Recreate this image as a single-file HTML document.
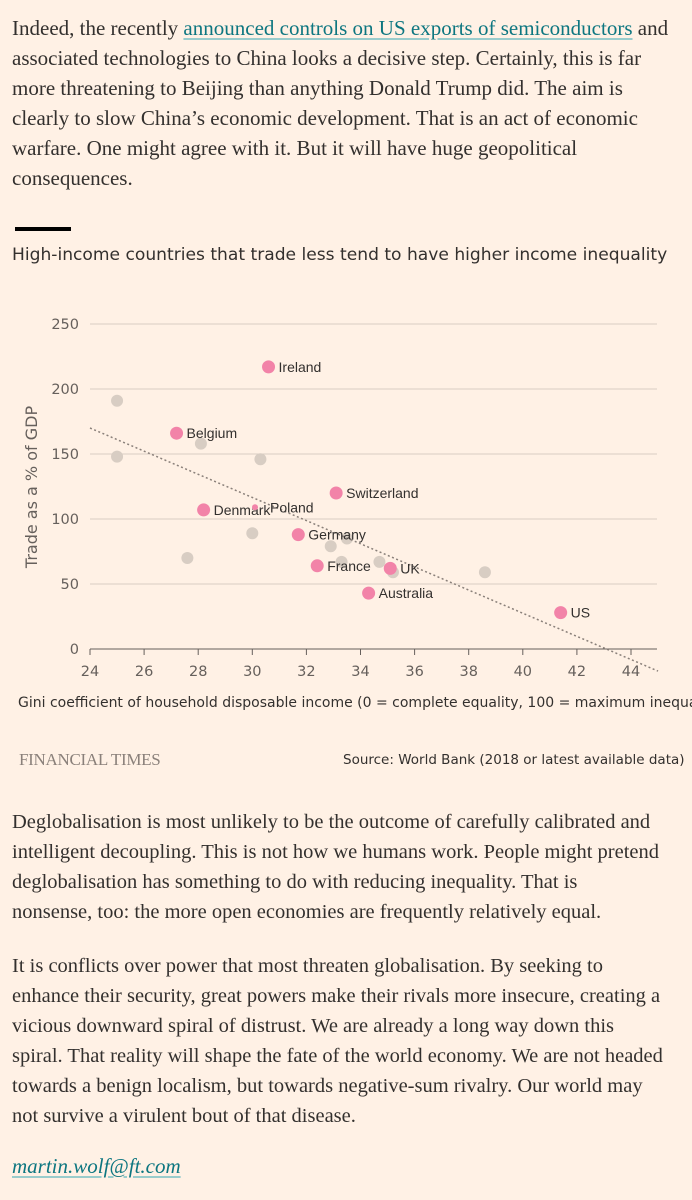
<!DOCTYPE html>
<html><head><meta charset="utf-8"><style>
html,body{margin:0;padding:0;background:#fff1e5;}
body{width:692px;height:1200px;position:relative;overflow:hidden;color:#33302e;}
.p{position:absolute;left:12px;font-family:"Liberation Serif",serif;font-size:21px;line-height:30px;white-space:nowrap;}
.p div{height:30px;}
a{color:#0d7680;text-decoration:underline;text-decoration-color:#9cc;text-underline-offset:3px;}
.sans{font-family:"DejaVu Sans","Liberation Sans",sans-serif;}
</style></head><body>
<div class="p" style="top:13px">
<div>Indeed, the recently <a>announced controls on US exports of semiconductors</a> and</div>
<div>associated technologies to China looks a decisive step. Certainly, this is far</div>
<div>more threatening to Beijing than anything Donald Trump did. The aim is</div>
<div>clearly to slow China’s economic development. That is an act of economic</div>
<div>warfare. One might agree with it. But it will have huge geopolitical</div>
<div>consequences.</div>
</div>
<div style="position:absolute;left:15px;top:227px;width:56px;height:4px;background:#000"></div>
<div class="sans" style="position:absolute;left:12px;top:245px;font-size:17.1px;color:#33302e;white-space:nowrap;">High-income countries that trade less tend to have higher income inequality</div>
<svg id="chart" width="692" height="720" style="position:absolute;left:0;top:0" font-family="DejaVu Sans, Liberation Sans, sans-serif"></svg>
<div class="sans" style="position:absolute;left:18px;top:695px;font-size:14px;color:#33302e;white-space:nowrap;">Gini coefficient of household disposable income (0 = complete equality, 100 = maximum inequality)</div>
<div style="position:absolute;left:19px;top:750px;font-family:'Liberation Serif',serif;font-size:17px;color:#8a807a;letter-spacing:-0.3px">FINANCIAL TIMES</div>
<div class="sans" style="position:absolute;left:343px;top:752px;font-size:13.5px;color:#33302e;white-space:nowrap;">Source: World Bank (2018 or latest available data)</div>
<div class="p" style="top:807px;font-size:20.5px">
<div>Deglobalisation is most unlikely to be the outcome of carefully calibrated and</div>
<div>intelligent decoupling. This is not how we humans work. People might pretend</div>
<div>deglobalisation has something to do with reducing inequality. That is</div>
<div>nonsense, too: the more open economies are frequently relatively equal.</div>
</div>
<div class="p" style="top:951px;font-size:20.5px">
<div>It is conflicts over power that most threaten globalisation. By seeking to</div>
<div>enhance their security, great powers make their rivals more insecure, creating a</div>
<div>vicious downward spiral of distrust. We are already a long way down this</div>
<div>spiral. That reality will shape the fate of the world economy. We are not headed</div>
<div>towards a benign localism, but towards negative-sum rivalry. Our world may</div>
<div>not survive a virulent bout of that disease.</div>
</div>
<div class="p" style="top:1151px"><a style="font-style:italic">martin.wolf@ft.com</a></div>
<script>
const yTicks=[0,50,100,150,200,250];
const xTicks=[24,26,28,30,32,34,36,38,40,42,44];
const greyGini=[25.0,25.0,28.1,30.3,30.0,27.6,32.9,33.5,33.3,34.7,35.2,38.6];
const greyTrade=[191,148,158,146,89,70,79,85,67,67,59,59];
const names=["Ireland","Belgium","Denmark","Poland","Switzerland","Germany","France","UK","Australia","US"];
const gini=[30.6,27.2,28.2,30.1,33.1,31.7,32.4,35.1,34.3,41.4];
const trade=[217,166,107,109,120,88,64,62,43,28];
const labelText=["Ireland","Belgium","Denmark","Poland","Switzerland","Germany","France","UK","Australia","US"];
const trendStart=[24,170];
const trendEnd=[45,-17];
const NS="http://www.w3.org/2000/svg";
const svg=document.getElementById('chart');
const X=v=>90+(v-24)*27.05;
const Y=v=>649-v*1.3;
function mk(t,a){const e=document.createElementNS(NS,t);for(const k in a)e.setAttribute(k,a[k]);svg.appendChild(e);return e;}
yTicks.forEach(v=>{
 const g=mk('line',{x1:90,x2:657,y1:Y(v),y2:Y(v),stroke:v===0?'#66605c':'#d9cdc3','stroke-width':1});
 
 
 const t=mk('text',{x:79,y:Y(v)+5,'text-anchor':'end','font-size':14.5,fill:'#66605c'});
 t.textContent=v;
 
 
});
xTicks.forEach(v=>{
 const l=mk('line',{x1:X(v),x2:X(v),y1:Y(0),y2:Y(0)+6,stroke:'#66605c'});
 
 
 const t=mk('text',{x:X(v),y:Y(0)+27,'text-anchor':'middle','font-size':14.5,fill:'#66605c'});
 t.textContent=v;
 
 
});
const yt=mk('text',{x:0,y:0,transform:'translate(37,487) rotate(-90)','text-anchor':'middle','font-size':16,fill:'#66605c'});
yt.textContent='Trade as a % of GDP';


greyGini.forEach((g,i)=>{
 const c=mk('circle',{cx:X(g),cy:Y(greyTrade[i]),r:6,fill:'#d8cdc3'});
 
 
});
const tl=mk('line',{x1:X(trendStart[0]),y1:Y(trendStart[1]),x2:X(trendEnd[0]),y2:Y(trendEnd[1]),stroke:'#8a807a','stroke-width':1.5,'stroke-dasharray':'2,2.5'});


gini.forEach((g,i)=>{
 const isPol=names[i]==='Poland';
 const c=mk('circle',{cx:X(g),cy:Y(trade[i]),r:isPol?3:6.5,fill:'#f283a8'});
 
 
 const dx=isPol?15:10;
 const t=mk('text',{x:X(g)+dx,y:Y(trade[i])+5,'font-size':14,'font-family':'Liberation Sans, sans-serif',fill:'#33302e'});
 t.textContent=labelText[i];
 
 
});
</script>
</body></html>
